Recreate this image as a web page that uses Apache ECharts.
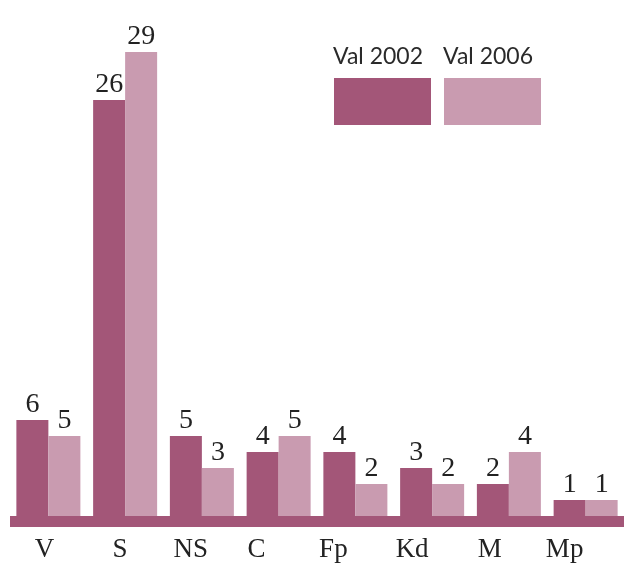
<!DOCTYPE html>
<html><head><meta charset="utf-8">
<script src="https://cdn.jsdelivr.net/npm/echarts@6/dist/echarts.min.js"></script>
<style>html,body{margin:0;padding:0;background:#fff}#c{width:624px;height:565px}</style>
</head><body><div id="c"></div>
<script>
var categories = ['V', 'S', 'NS', 'C', 'Fp', 'Kd', 'M', 'Mp'];
var val2002 = [6, 26, 5, 4, 4, 3, 2, 1];
var val2006 = [5, 29, 3, 5, 2, 2, 4, 1];
var seriesNames = ['Val 2002', 'Val 2006'];

var labelShift = [4, 5, 11, 22, 22, 20, 19, 21];
var rich = {};
labelShift.forEach(function (d, i) {
  rich['c' + i] = { fontFamily: 'Liberation Serif', fontSize: 27, color: '#222', padding: [0, 2 * d, 0, 0] };
});

var chart = echarts.init(document.getElementById('c'));
var labelStyle = { show: true, position: 'top', distance: 1, fontFamily: 'Liberation Serif', fontSize: 28, color: '#222' };
chart.setOption({
  animation: false,
  grid: { left: 10, right: -1, top: 36, bottom: 43.5, containLabel: false },
  legend: [
    { data: [seriesNames[0]], left: 334, top: 78, padding: 0, itemWidth: 97, itemHeight: 47, icon: 'rect', selectedMode: false, formatter: function () { return ''; } },
    { data: [seriesNames[1]], left: 444, top: 78, padding: 0, itemWidth: 97, itemHeight: 47, icon: 'rect', selectedMode: false, formatter: function () { return ''; } }
  ],
  graphic: [
    { type: 'text', left: 333, top: 45, style: { text: seriesNames[0], fontFamily: 'Lato', fontSize: 23, fill: '#2a2a2a' } },
    { type: 'text', left: 443, top: 45, style: { text: seriesNames[1], fontFamily: 'Lato', fontSize: 23, fill: '#2a2a2a' } }
  ],
  xAxis: {
    type: 'category', data: categories,
    axisLine: { onZero: false, lineStyle: { color: '#a35678', width: 11, cap: 'butt' } },
    axisTick: { show: false },
    axisLabel: {
      margin: 15,
      formatter: function (v) { return '{c' + categories.indexOf(v) + '|' + v + '}'; },
      rich: rich
    }
  },
  yAxis: { type: 'value', min: -0.35, max: 30, show: false, splitLine: { show: false } },
  series: [
    { name: seriesNames[0], type: 'bar', data: val2002, barWidth: 32, barGap: '0%', itemStyle: { color: '#a35678' }, label: labelStyle },
    { name: seriesNames[1], type: 'bar', data: val2006, barWidth: 32, barGap: '0%', itemStyle: { color: '#c99bb0' }, label: labelStyle }
  ]
});
</script></body></html>
